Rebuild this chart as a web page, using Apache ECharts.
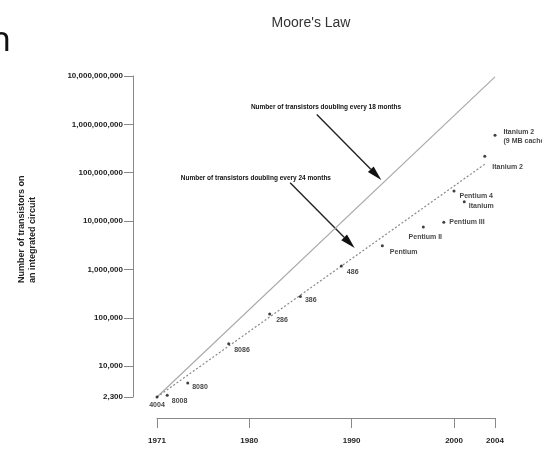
<!DOCTYPE html>
<html>
<head>
<meta charset="utf-8">
<script src="https://cdn.jsdelivr.net/npm/echarts@6/dist/echarts.min.js"></script>
<style>
  html, body { margin: 0; padding: 0; background: #fff; }
  #chart { width: 542px; height: 452px; }
</style>
</head>
<body>
<div id="chart"></div>
<script>
// Microprocessor transistor counts by year of introduction
const processors = ['4004', '8008', '8080', '8086', '286', '386', '486', 'Pentium', 'Pentium II', 'Pentium III', 'Pentium 4', 'Itanium', 'Itanium 2', 'Itanium 2\n(9 MB cache)'];
const years = [1971, 1972, 1974, 1978, 1982, 1985, 1989, 1993, 1997, 1999, 2000, 2001, 2003, 2004];
const transistors = [2300, 2500, 4500, 29000, 120000, 275000, 1180000, 3100000, 7500000, 9500000, 42000000, 25000000, 220000000, 592000000];

// Trend lines: doubling every 18 months and every 24 months
const trend18Years = [1971, 2004];
const trend18Values = [2300, 9600000000];
const trend24Years = [1971, 2003];
const trend24Values = [2300, 150000000];

// Axis ticks
const xTicks = [1971, 1980, 1990, 2000, 2004];
const yMin = 2300;
const yMax = 10000000000;

// Annotation texts
const note18 = 'Number of transistors doubling every 18 months';
const note24 = 'Number of transistors doubling every 24 months';

// Label placement for each processor: [position, distance, dx, dy]
const labelPlacement = [
  ['bottom', 2, 0, 0], ['right', 3, 0, 6], ['right', 3, 0, 4], ['right', 4, 0, 6],
  ['right', 5, 0, 6], ['right', 3, 0, 4], ['right', 4, 0, 6], ['right', 6, 0, 6],
  ['bottom', 4, 2, 0], ['right', 4, 0, 0], ['right', 4, 0, 5], ['right', 3, 0, 4],
  ['right', 6, 0, 11], ['right', 7, 0, 1]
];

// Annotation geometry in data space: text anchor, arrow start, arrow tip
const note18Text = [1987.5, 2300000000];
const note18From = [1986.6, 1600000000];
const note18To = [1992.9, 71000000];
const note24Text = [1980.65, 78000000];
const note24From = [1984.0, 62000000];
const note24To = [1990.3, 2770000];

const FONT = '"Liberation Sans", Arial, sans-serif';

const zip = (xs, ys) => xs.map((x, i) => [x, ys[i]]);

const chart = echarts.init(document.getElementById('chart'), null, { renderer: 'canvas' });

const pointData = processors.map((name, i) => {
  const p = labelPlacement[i];
  return {
    name: name,
    value: [years[i], transistors[i]],
    label: { position: p[0], distance: p[1], offset: [p[2], p[3]] }
  };
});

chart.setOption({
  animation: false,
  backgroundColor: '#fff',
  title: {
    text: "Moore's Law",
    left: 306,
    top: 11,
    textAlign: 'center',
    textStyle: { fontFamily: FONT, fontSize: 14, fontWeight: 'normal', color: '#333' }
  },
  grid: { left: 157, right: 47, top: 76, bottom: 55, containLabel: false, outerBoundsMode: 'none' },
  xAxis: {
    type: 'value',
    min: 1971,
    max: 2004,
    offset: 21,
    splitLine: { show: false },
    axisLine: { lineStyle: { color: '#888', width: 1 } },
    axisTick: { show: true, length: 10, customValues: xTicks, lineStyle: { color: '#888' } },
    axisLabel: {
      customValues: xTicks,
      margin: 19,
      fontFamily: FONT,
      fontSize: 8,
      fontWeight: 'bold',
      color: '#222',
      formatter: v => String(v)
    }
  },
  yAxis: {
    type: 'log',
    logBase: 10,
    min: yMin,
    max: yMax,
    offset: 24,
    splitLine: { show: false },
    axisLine: { show: true, lineStyle: { color: '#888', width: 1 } },
    axisTick: { show: true, length: 9, lineStyle: { color: '#888' } },
    axisLabel: {
      margin: 10,
      fontFamily: FONT,
      fontSize: 8,
      fontWeight: 'bold',
      color: '#222',
      formatter: v => Math.round(v).toLocaleString('en-US')
    }
  },
  series: [
    {
      type: 'line',
      name: '18 months',
      data: zip(trend18Years, trend18Values),
      symbol: 'none',
      silent: true,
      lineStyle: { color: '#aaa', width: 1.2 },
      z: 1
    },
    {
      type: 'line',
      name: '24 months',
      data: zip(trend24Years, trend24Values),
      symbol: 'none',
      silent: true,
      lineStyle: { color: '#888', width: 1.2, type: [2, 2] },
      z: 1
    },
    {
      type: 'scatter',
      name: 'Processors',
      data: pointData,
      symbol: 'circle',
      symbolSize: 3,
      itemStyle: { color: '#111' },
      label: {
        show: true,
        formatter: p => p.name,
        fontFamily: FONT,
        fontSize: 7,
        fontWeight: 'bold',
        color: '#111',
        lineHeight: 9
      },
      z: 3
    }
  ]
});

// Annotation arrows and texts placed from data-space anchors
function toPx(pt) { return chart.convertToPixel({ gridIndex: 0 }, pt); }

function arrow(fromPt, toPt) {
  const a = toPx(fromPt), b = toPx(toPt);
  const dx = b[0] - a[0], dy = b[1] - a[1];
  const len = Math.sqrt(dx * dx + dy * dy);
  const ux = dx / len, uy = dy / len;
  const headLen = 15, headHalf = 4;
  const bx = b[0] - ux * headLen, by = b[1] - uy * headLen;
  return [
    {
      type: 'line',
      shape: { x1: a[0], y1: a[1], x2: bx, y2: by },
      style: { stroke: '#222', lineWidth: 1.4 },
      silent: true
    },
    {
      type: 'polygon',
      shape: { points: [[b[0], b[1]], [bx - uy * headHalf, by + ux * headHalf], [bx + uy * headHalf, by - ux * headHalf]] },
      style: { fill: '#111' },
      silent: true
    }
  ];
}

function note(text, pt) {
  const p = toPx(pt);
  return {
    type: 'text',
    x: p[0], y: p[1],
    style: { text: text, x: 0, y: 0, align: 'center', verticalAlign: 'middle', font: 'bold 6.5px ' + FONT, fill: '#111' },
    silent: true
  };
}

chart.setOption({
  graphic: [
    {
      type: 'text',
      x: -10, y: 41,
      style: { text: 'n', font: '34px "Noto Sans", sans-serif', fill: '#111', align: 'left', verticalAlign: 'middle' },
      silent: true
    },
    {
      type: 'text',
      x: 27.5, y: 283,
      rotation: Math.PI / 2,
      style: {
        text: 'Number of transistors on\nan integrated circuit',
        x: 0, y: 0,
        align: 'left', verticalAlign: 'middle',
        font: 'bold 9px ' + FONT, lineHeight: 11, fill: '#222'
      },
      silent: true
    },
    note(note18, note18Text),
    note(note24, note24Text),
    ...arrow(note18From, note18To),
    ...arrow(note24From, note24To)
  ]
});
</script>
</body>
</html>
